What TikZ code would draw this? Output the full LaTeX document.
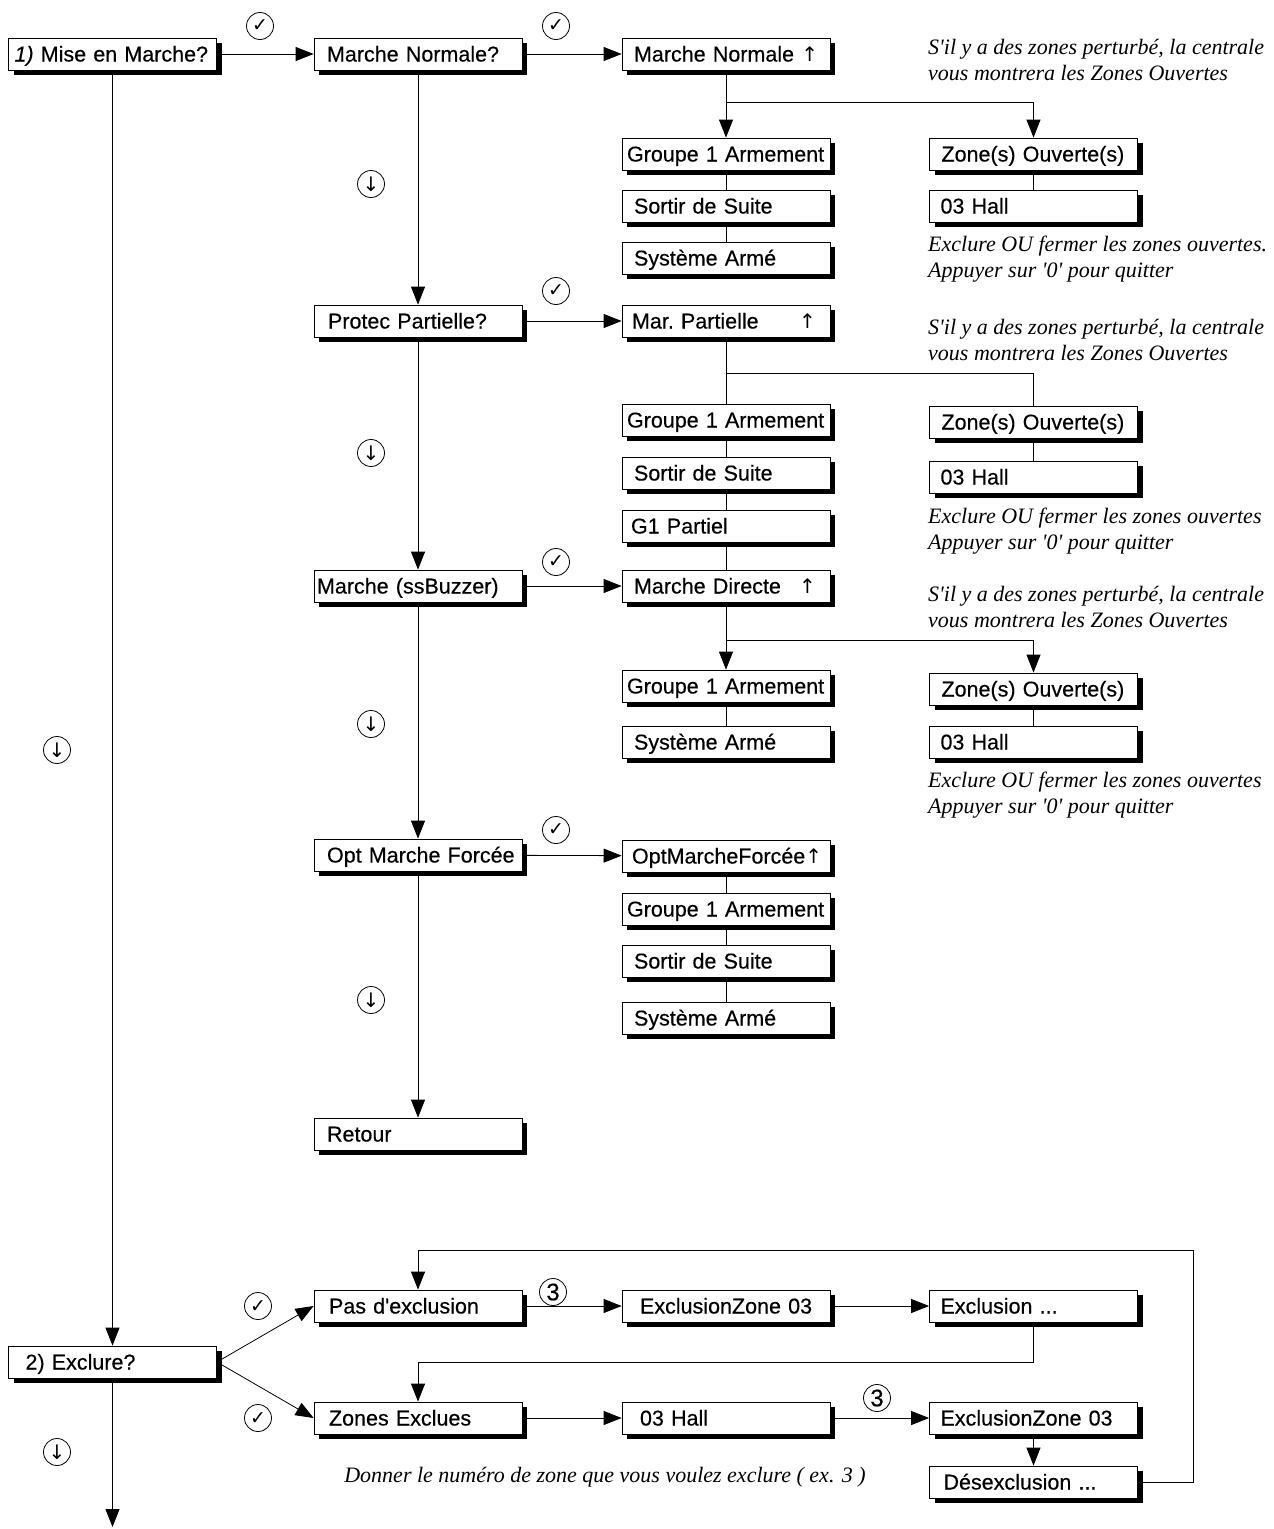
\documentclass[tikz,border=0pt]{standalone}
\usepackage{fontspec}
\usetikzlibrary{arrows.meta,shadows,calc}
\newfontfamily\arialf[FakeBold=0.4]{Liberation Sans}
\newfontfamily\tnrf{Liberation Serif}
\newfontfamily\djv{DejaVu Sans}
\newcommand\ind[1]{\hspace*{#1pt}}
\newcommand\chk{{\djv\fontsize{19}{19}\selectfont ✓}}
\newcommand\dwn{{\djv\fontsize{20}{20}\selectfont ↓}}
\newcommand\upa{{\djv\fontsize{20}{20}\selectfont ↑}}
\newcommand\thr{{\arialf\fontsize{24}{24}\selectfont 3}}
\tikzset{
  box/.style={draw, fill=white, line width=0.8pt, minimum width=208pt, minimum height=32pt,
    text width=204pt, inner xsep=2pt, inner ysep=0pt, text height=23.5pt, text depth=8.5pt, align=left,
    font=\arialf\fontsize{21.5}{24}\selectfont,
    general shadow={fill=black, shadow xshift=5pt, shadow yshift=-5pt}},
  arr/.style={line width=0.8pt, -{Triangle[length=18pt,width=14pt]}},
  ln/.style={line width=0.8pt},
  circ/.style={draw, circle, line width=0.8pt, minimum size=27pt, inner sep=0pt},
  note/.style={font=\tnrf\itshape\fontsize{22}{25.5}\selectfont, align=left, inner sep=0pt, anchor=west},
}
\begin{document}
\begin{tikzpicture}[x=1pt,y=-1pt]
\fill[white] (0,0) rectangle (1274,1529);
\useasboundingbox (0,0) rectangle (1274,1529);

% column A
\node[box] (A1) at (112.5,54) {\ind{4}\textit{1)} Mise en Marche?};
\node[box] (E) at (112.5,1362) {\ind{15}2) Exclure?};

% column B
\node[box] (B1) at (418,54) {\ind{11}Marche Normale?};
\node[box] (P2) at (418,321) {\ind{12}Protec Partielle?};
\node[box] (M3) at (418,586) {\ind{1}Marche (ssBuzzer)};
\node[box] (O4) at (418,855) {\ind{11}Opt Marche Forcée};
\node[box] (R5) at (418,1134) {\ind{11}Retour};
\node[box] (PX) at (418,1306) {\ind{13}Pas d'exclusion};
\node[box] (ZE) at (418,1418) {\ind{13}Zones Exclues};

% column C
\node[box] (C1) at (726,54) {\ind{10}Marche Normale \upa};
\node[box] (G1) at (726,154) {\ind{3}Groupe 1 Armement};
\node[box] (S1) at (726,206) {\ind{10}Sortir de Suite};
\node[box] (Y1) at (726,258) {\ind{10}Système Armé};
\node[box] (C2) at (726,321) {\ind{8}Mar.\ Partielle\hfill \upa\ind{12}\null};
\node[box] (G2) at (726,420) {\ind{3}Groupe 1 Armement};
\node[box] (S2) at (726,473) {\ind{10}Sortir de Suite};
\node[box] (GP) at (726,526) {\ind{7}G1 Partiel};
\node[box] (C3) at (726,586) {\ind{10}Marche Directe\hfill \upa\ind{12}\null};
\node[box] (G3) at (726,686) {\ind{3}Groupe 1 Armement};
\node[box] (Y3) at (726,742) {\ind{10}Système Armé};
\node[box] (C4) at (726,856) {\ind{8}OptMarcheForcée\upa};
\node[box] (G4) at (726,909) {\ind{3}Groupe 1 Armement};
\node[box] (S4) at (726,961) {\ind{10}Sortir de Suite};
\node[box] (Y4) at (726,1018) {\ind{10}Système Armé};
\node[box] (EZ1) at (726,1306) {\ind{16}ExclusionZone 03};
\node[box] (H5) at (726,1418) {\ind{16}03 Hall};

% column D
\node[box] (Z1) at (1033.5,154) {\ind{10}Zone(s) Ouverte(s)};
\node[box] (H1) at (1033.5,206) {\ind{9}03 Hall};
\node[box] (Z2) at (1033.5,422) {\ind{10}Zone(s) Ouverte(s)};
\node[box] (H2) at (1033.5,477) {\ind{9}03 Hall};
\node[box] (Z3) at (1033.5,689) {\ind{10}Zone(s) Ouverte(s)};
\node[box] (H3) at (1033.5,742) {\ind{9}03 Hall};
\node[box] (EX) at (1033.5,1306) {\ind{9}Exclusion ...};
\node[box] (EZ2) at (1033.5,1418) {\ind{9}ExclusionZone 03};
\node[box] (DX) at (1033.5,1482) {\ind{12}Désexclusion ...};

% notes
\node[note] (n1) at (928,60) {S'il y a des zones perturbé, la centrale\\vous montrera les Zones Ouvertes};
\node[note] (n2) at (928,259) {Exclure OU fermer les zones ouvertes.\\Appuyer sur '0' pour quitter};
\node[note] (n3) at (928,340) {S'il y a des zones perturbé, la centrale\\vous montrera les Zones Ouvertes};
\node[note] (n4) at (928,531) {Exclure OU fermer les zones ouvertes\\Appuyer sur '0' pour quitter};
\node[note] (n5) at (928,607) {S'il y a des zones perturbé, la centrale\\vous montrera les Zones Ouvertes};
\node[note] (n6) at (928,795) {Exclure OU fermer les zones ouvertes\\Appuyer sur '0' pour quitter};
\node[note, anchor=center] (n7) at (605,1477) {Donner le numéro de zone que vous voulez exclure ( ex. 3 )};

% circles
\node[circ] (k1) at (260,26) {\chk};
\node[circ] (k2) at (556,26) {\chk};
\node[circ] (k3) at (556,291) {\chk};
\node[circ] (k4) at (556,562) {\chk};
\node[circ] (k5) at (556,830) {\chk};
\node[circ] (k6) at (258,1306) {\chk};
\node[circ] (k7) at (258,1418) {\chk};
\node[circ] (d1) at (371,184) {\dwn};
\node[circ] (d2) at (371,453) {\dwn};
\node[circ] (d3) at (371,724) {\dwn};
\node[circ] (d4) at (371,1000) {\dwn};
\node[circ] (d5) at (57,750) {\dwn};
\node[circ] (d6) at (57,1452) {\dwn};
\node[circ] (t1) at (553,1292) {\thr};
\node[circ] (t2) at (877,1398) {\thr};

% connectors
\draw[arr] (A1) -- (B1);
\draw[arr] (B1) -- (C1);
\coordinate (j1) at (726,102);
\draw[ln] (C1.south) -- (j1);
\draw[arr] (j1) -- (G1.north);
\draw[arr] (j1) -| (Z1.north);
\draw[ln] (G1) -- (S1);
\draw[ln] (S1) -- (Y1);
\draw[ln] (Z1) -- (H1);

\draw[arr] (B1) -- (P2);
\draw[arr] (P2) -- (C2);
\coordinate (j2) at (726,373);
\draw[ln] (C2) -- (G2);
\draw[ln] (j2) -| (Z2.north);
\draw[ln] (G2) -- (S2);
\draw[ln] (S2) -- (GP);
\draw[ln] (GP) -- (C3);
\draw[ln] (Z2) -- (H2);

\draw[arr] (P2) -- (M3);
\draw[arr] (M3) -- (C3);
\coordinate (j3) at (726,640);
\draw[ln] (C3.south) -- (j3);
\draw[arr] (j3) -- (G3.north);
\draw[arr] (j3) -| (Z3.north);
\draw[ln] (G3) -- (Y3);
\draw[ln] (Z3) -- (H3);

\draw[arr] (M3) -- (O4);
\draw[arr] (O4) -- (C4);
\draw[ln] (C4) -- (G4);
\draw[ln] (G4) -- (S4);
\draw[ln] (S4) -- (Y4);
\draw[arr] (O4) -- (R5);

\draw[arr] (A1) -- (E);
\coordinate (endA) at (112.5,1527);
\draw[arr] (E) -- (endA);
\draw[arr] (E.east) -- (PX.west);
\draw[arr] (E.east) -- (ZE.west);
\draw[arr] (PX) -- (EZ1);
\draw[arr] (EZ1) -- (EX);
\draw[arr] (ZE) -- (H5);
\draw[arr] (H5) -- (EZ2);
\draw[arr] (EZ2) -- (DX);
\coordinate (lp1) at (1193,1250);
\draw[arr] (DX.east) -| (lp1) -| (PX.north);
\coordinate (lp2) at (1033.5,1362);
\draw[arr] (EX.south) -- (lp2) -| (ZE.north);
\end{tikzpicture}
\end{document}
